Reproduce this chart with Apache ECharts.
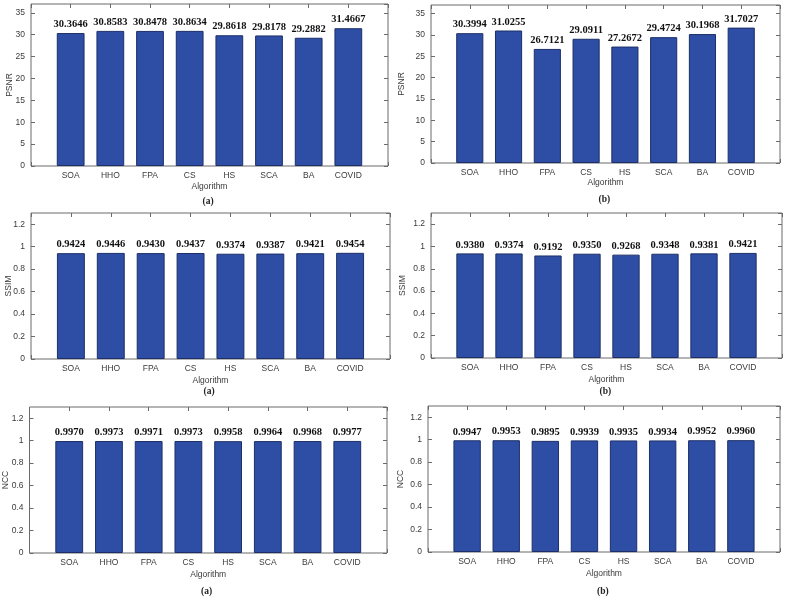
<!DOCTYPE html>
<html>
<head>
<meta charset="utf-8">
<script src="https://cdn.jsdelivr.net/npm/echarts@6/dist/echarts.min.js"></script>
<style>
html,body{margin:0;padding:0;background:#fff;}
#chart{width:789px;height:602px;}
</style>
</head>
<body>
<div id="chart"></div>
<script>
var categories = ['SOA','HHO','FPA','CS','HS','SCA','BA','COVID'];
var psnrA = [30.3646,30.8583,30.8478,30.8634,29.8618,29.8178,29.2882,31.4667];
var psnrB = [30.3994,31.0255,26.7121,29.0911,27.2672,29.4724,30.1968,31.7027];
var ssimA = [0.9424,0.9446,0.9430,0.9437,0.9374,0.9387,0.9421,0.9454];
var ssimB = [0.9380,0.9374,0.9192,0.9350,0.9268,0.9348,0.9381,0.9421];
var nccA  = [0.9970,0.9973,0.9971,0.9973,0.9958,0.9964,0.9968,0.9977];
var nccB  = [0.9947,0.9953,0.9895,0.9939,0.9935,0.9934,0.9952,0.9960];
var xLabel = 'Algorithm';

var panels = [
  {name:'PSNR', data:psnrA, max:37, interval:5, left:31, top:4, width:357, height:162, nameGap:16, yNameGap:17, cap:'(a)', capY:203},
  {name:'PSNR', data:psnrB, max:37, interval:5, left:431, top:5, width:349, height:158, nameGap:15, yNameGap:25, cap:'(b)', capY:201},
  {name:'SSIM', data:ssimA, max:1.3, interval:0.2, left:31, top:213, width:359, height:146, nameGap:17, yNameGap:18, cap:'(a)', capY:393},
  {name:'SSIM', data:ssimB, max:1.3, interval:0.2, left:431, top:213, width:351, height:145, nameGap:17, yNameGap:24, cap:'(b)', capY:393},
  {name:'NCC', data:nccA, max:1.3, interval:0.2, left:29, top:407, width:358, height:146, nameGap:17, yNameGap:19.5, cap:'(a)', capY:593},
  {name:'NCC', data:nccB, max:1.3, interval:0.2, left:428, top:406, width:352, height:146, nameGap:17, yNameGap:22.5, cap:'(b)', capY:593}
];

var frameColor = '#6b6b6b';
var textColor = '#3a3a3a';
var sans = 'Liberation Sans, Arial, sans-serif';
var serif = 'Liberation Serif, Times New Roman, serif';

var grids = [], xAxes = [], yAxes = [], series = [], graphics = [];
var tick = {show:true, inside:true, length:4, lineStyle:{color:frameColor}};
panels.forEach(function(p, i){
  grids.push({left:p.left, top:p.top, width:p.width, height:p.height, show:true, borderColor:frameColor, borderWidth:1, backgroundColor:'#fff'});
  xAxes.push({
    type:'value', gridIndex:i, min:0, max:9, interval:1, position:'bottom',
    name:xLabel, nameLocation:'middle', nameGap:p.nameGap, nameMoveOverlap:false,
    nameTextStyle:{fontFamily:sans, fontSize:8.5, color:textColor},
    axisLine:{show:false, onZero:false},
    axisTick:tick,
    axisLabel:{fontFamily:sans, fontSize:8.5, color:textColor, margin:5,
      formatter:function(v){ var k=Math.round(v); return (k>=1&&k<=8)? categories[k-1] : ''; }},
    splitLine:{show:false}
  });
  xAxes.push({
    type:'value', gridIndex:i, min:0, max:9, interval:1, position:'top',
    axisLine:{show:false, onZero:false},
    axisTick:tick,
    axisLabel:{show:false}, splitLine:{show:false}
  });
  yAxes.push({
    type:'value', gridIndex:i, min:0, max:p.max, interval:p.interval, position:'left',
    name:p.name, nameLocation:'middle', nameGap:p.yNameGap, nameRotate:90, nameMoveOverlap:false,
    nameTextStyle:{fontFamily:sans, fontSize:8.5, color:textColor},
    axisLine:{show:false, onZero:false},
    axisTick:tick,
    axisLabel:{fontFamily:sans, fontSize:8.5, color:textColor, margin:6, showMaxLabel:false},
    splitLine:{show:false}
  });
  yAxes.push({
    type:'value', gridIndex:i, min:0, max:p.max, interval:p.interval, position:'right',
    axisLine:{show:false, onZero:false},
    axisTick:tick,
    axisLabel:{show:false}, splitLine:{show:false}
  });
  series.push({
    type:'bar', xAxisIndex:2*i, yAxisIndex:2*i, barWidth:'70%',
    data:p.data.map(function(v,k){ return [k+1, v]; }),
    itemStyle:{color:'#2d4ea4', borderColor:'#1d2f68', borderWidth:1},
    label:{show:true, position:'top', distance:3, fontFamily:serif, fontWeight:'bold', fontSize:10.5, color:'#111',
      formatter:function(o){ return o.value[1].toFixed(4); }},
    silent:true, animation:false
  });
  graphics.push({
    type:'text', left:p.left + p.width/2 - 7, top:p.capY - 6,
    style:{text:p.cap, font:'bold 9.5px ' + serif, fill:'#222'}
  });
});

var chart = echarts.init(document.getElementById('chart'));
chart.setOption({
  animation:false,
  backgroundColor:'#fff',
  grid:grids, xAxis:xAxes, yAxis:yAxes, series:series, graphic:graphics
});
</script>
</body>
</html>
